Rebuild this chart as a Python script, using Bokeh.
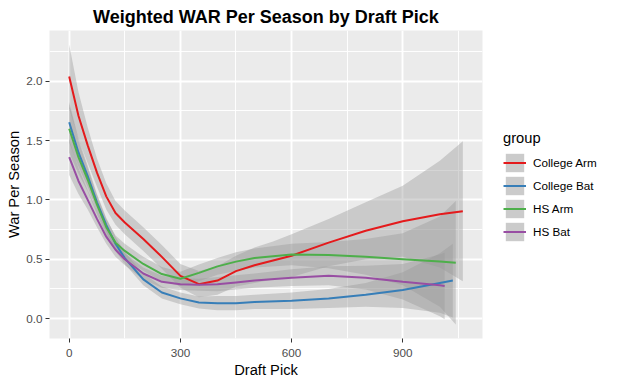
from bokeh.plotting import figure
from bokeh.models import (Range1d, FixedTicker, Legend, LegendItem, ColumnDataSource,
                          CustomJSTickFormatter)
from bokeh.layouts import row
from bokeh.embed import file_html
from bokeh.resources import INLINE

FONT = "Liberation Sans"

groups = ["College Arm", "College Bat", "HS Arm", "HS Bat"]
colors = ["#E41A1C", "#377EB8", "#4DAF4A", "#984EA3"]

# College Arm
ca_x = [0, 25, 50, 75, 100, 125, 150, 200, 250, 300, 350, 400, 450, 500, 550, 600, 700, 800, 900, 1000, 1062]
ca_y = [2.04, 1.71, 1.46, 1.23, 1.03, 0.89, 0.81, 0.67, 0.52, 0.36, 0.29, 0.32, 0.40, 0.45, 0.49, 0.53, 0.64, 0.74, 0.82, 0.88, 0.905]
ca_se = [0.27, 0.20, 0.15, 0.12, 0.11, 0.10, 0.10, 0.10, 0.10, 0.10, 0.11, 0.12, 0.13, 0.15, 0.16, 0.18, 0.20, 0.24, 0.30, 0.45, 0.59]

# College Bat
cb_x = [0, 25, 50, 75, 100, 125, 150, 200, 250, 300, 350, 400, 450, 500, 600, 700, 800, 900, 1000, 1035]
cb_y = [1.655, 1.40, 1.20, 0.98, 0.79, 0.63, 0.51, 0.33, 0.22, 0.17, 0.135, 0.13, 0.13, 0.14, 0.15, 0.17, 0.20, 0.24, 0.30, 0.32]
cb_se = [0.17, 0.12, 0.09, 0.07, 0.06, 0.06, 0.05, 0.05, 0.05, 0.05, 0.05, 0.06, 0.06, 0.06, 0.07, 0.08, 0.10, 0.15, 0.25, 0.31]

# HS Arm
ha_x = [0, 25, 50, 75, 100, 125, 150, 200, 250, 300, 350, 400, 450, 500, 600, 700, 800, 900, 1000, 1043]
ha_y = [1.60, 1.36, 1.17, 0.96, 0.77, 0.64, 0.57, 0.46, 0.375, 0.335, 0.385, 0.44, 0.48, 0.51, 0.54, 0.535, 0.52, 0.50, 0.48, 0.47]
ha_se = [0.20, 0.14, 0.10, 0.08, 0.07, 0.06, 0.06, 0.06, 0.06, 0.06, 0.07, 0.07, 0.08, 0.08, 0.09, 0.11, 0.15, 0.22, 0.38, 0.52]

# HS Bat
hb_x = [0, 25, 50, 75, 100, 125, 150, 200, 250, 300, 350, 400, 450, 500, 600, 700, 800, 900, 1000, 1013]
hb_y = [1.36, 1.16, 1.00, 0.84, 0.69, 0.58, 0.50, 0.38, 0.31, 0.29, 0.285, 0.29, 0.305, 0.32, 0.345, 0.36, 0.345, 0.31, 0.28, 0.275]
hb_se = [0.15, 0.11, 0.08, 0.07, 0.06, 0.06, 0.05, 0.05, 0.05, 0.05, 0.05, 0.06, 0.06, 0.06, 0.07, 0.08, 0.10, 0.15, 0.26, 0.28]

x_ticks = [0, 300, 600, 900]
x_minor = [150, 450, 750, 1050]
y_ticks = [0.0, 0.5, 1.0, 1.5, 2.0]
y_minor = [0.25, 0.75, 1.25, 1.75, 2.25]

series = [(ca_x, ca_y, ca_se), (cb_x, cb_y, cb_se), (ha_x, ha_y, ha_se), (hb_x, hb_y, hb_se)]

def band(xs, ys, se):
    return dict(x=xs, y=ys,
                lo=[y - e for y, e in zip(ys, se)],
                hi=[y + e for y, e in zip(ys, se)])

# ranges with ggplot-like 5% expansion
all_x = [v for s in series for v in s[0]]
lows = [y - e for s in series for y, e in zip(s[1], s[2])]
highs = [y + e for s in series for y, e in zip(s[1], s[2])]
xmin, xmax = min(all_x), max(all_x)
ymin, ymax = min(lows), max(highs)
xp = (xmax - xmin) * 0.05
yp = (ymax - ymin) * 0.05

TOTAL_H = 369

p = figure(frame_width=433, frame_height=308, output_backend="svg", toolbar_location=None,
           x_range=Range1d(xmin - xp, xmax + xp), y_range=Range1d(ymin - yp, ymax + yp),
           min_border_left=49, min_border_right=10, min_border_top=30, min_border_bottom=34)

p.background_fill_color = "#EBEBEB"
p.border_fill_color = "white"
p.outline_line_color = None

p.title.text = "Weighted WAR Per Season by Draft Pick"
p.title.align = "center"
p.title.text_font = FONT
p.title.text_font_size = "18px"
p.title.text_font_style = "bold"
p.title.text_color = "black"
p.title.standoff = 7
p.title.offset = 0

# axes
for ax in (p.xaxis[0], p.yaxis[0]):
    ax.axis_line_color = None
    ax.major_tick_line_color = "#333333"
    ax.major_tick_line_width = 1
    ax.major_tick_out = 4
    ax.major_tick_in = 0
    ax.minor_tick_line_color = None
    ax.major_label_text_font = FONT
    ax.major_label_text_font_size = "11.7px"
    ax.major_label_text_color = "#4D4D4D"
    ax.axis_label_text_font = FONT
    ax.axis_label_text_font_size = "14.7px"
    ax.axis_label_text_font_style = "normal"
    ax.axis_label_text_color = "black"

p.xaxis[0].major_label_standoff = 6
p.yaxis[0].major_label_standoff = 3
p.xaxis[0].ticker = FixedTicker(ticks=x_ticks, minor_ticks=x_minor)
p.yaxis[0].ticker = FixedTicker(ticks=y_ticks, minor_ticks=y_minor)
p.yaxis[0].formatter = CustomJSTickFormatter(code="return tick.toFixed(1);")
p.xaxis[0].axis_label = "Draft Pick"
p.yaxis[0].axis_label = "War Per Season"
p.xaxis[0].axis_label_standoff = 2
p.yaxis[0].axis_label_standoff = 1

for g in (p.xgrid[0], p.ygrid[0]):
    g.grid_line_color = "white"
    g.grid_line_width = 1.9
    g.minor_grid_line_color = "white"
    g.minor_grid_line_width = 0.95

# ribbons then lines
for (xs, ys, se) in series:
    src = ColumnDataSource(band(xs, ys, se))
    p.varea(x="x", y1="lo", y2="hi", source=src, fill_color="#999999", fill_alpha=0.4)

for (xs, ys, se), c in zip(series, colors):
    p.line(xs, ys, line_color=c, line_width=2)

# legend in a separate, axis-less figure to the right; its renderers hold the
# same data but lie outside that figure's ranges, so only the legend keys show
leg = figure(width=108, height=TOTAL_H, output_backend="svg", toolbar_location=None,
             x_axis_type=None, y_axis_type=None, min_border=0,
             x_range=Range1d(-20, -19), y_range=Range1d(-20, -19))
leg.outline_line_color = None
leg.background_fill_color = "white"
leg.border_fill_color = "white"
leg.xgrid.visible = False
leg.ygrid.visible = False

items = []
for name, c, (xs, ys, se) in zip(groups, colors, series):
    src = ColumnDataSource(band(xs, ys, se))
    r_fill = leg.varea(x="x", y1="lo", y2="hi", source=src, fill_color="#CBCBCB", fill_alpha=1)
    r_line = leg.line(x="x", y="y", source=src, line_color=c, line_width=2)
    items.append(LegendItem(label=name, renderers=[r_fill, r_line]))

legend = Legend(items=items, title="group", location=(11, 84),
                glyph_width=23, glyph_height=23, spacing=0, padding=0, margin=0,
                label_standoff=7, title_standoff=5,
                label_text_font=FONT, label_text_font_size="11.7px", label_text_color="black",
                title_text_font=FONT, title_text_font_size="14.7px", title_text_font_style="normal",
                title_text_color="black", border_line_color=None, background_fill_alpha=0,
                label_height=23)
leg.add_layout(legend, "center")

layout = row(p, leg)
open("out.html", "w").write(file_html(layout, INLINE))
